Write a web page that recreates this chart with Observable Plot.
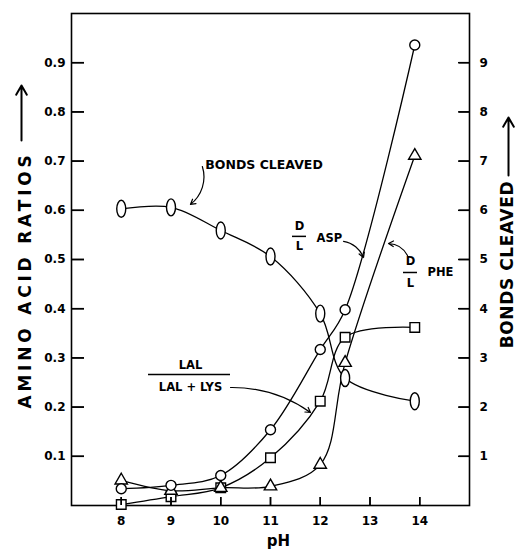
<!DOCTYPE html>
<html><head><meta charset="utf-8">
<script src="https://cdn.jsdelivr.net/npm/d3@7"></script>
<script src="https://cdn.jsdelivr.net/npm/@observablehq/plot@0.6"></script>
<style>body{margin:0;background:#fff}</style>
</head><body><div id="chart"></div>
<script>
// pH values of the measurements
const ph = [8, 9, 10, 11, 12, 12.5, 13.9];
// amino acid ratios (left axis)
const aspRatio = [0.034, 0.041, 0.061, 0.154, 0.317, 0.398, 0.936];   // D/L ASP (circles)
const pheRatio = [0.051, 0.030, 0.036, 0.039, 0.083, 0.290, 0.711];   // D/L PHE (triangles)
const lalRatio = [0.002, 0.018, 0.036, 0.097, 0.212, 0.342, 0.362];   // LAL/(LAL+LYS) (squares)
// bonds cleaved (right axis)
const bondsCleaved = [6.03, 6.06, 5.59, 5.06, 3.90, 2.59, 2.12];
// tick labels
const xTicks = [8, 9, 10, 11, 12, 13, 14];
const yTicks = [0.1, 0.2, 0.3, 0.4, 0.5, 0.6, 0.7, 0.8, 0.9];
const bondTickLabels = ["1","2","3","4","5","6","7","8","9"];

const rows = ph.map((p, i) => ({ph: p, asp: aspRatio[i], phe: pheRatio[i], lal: lalRatio[i], bonds: bondsCleaved[i] / 10}));

// annotations (data coordinates)
const notesStart = [
  {x: 9.69, y: 0.693, text: "BONDS CLEAVED", size: 12.5},
  {x: 11.925, y: 0.543, text: "ASP", size: 11.5},
  {x: 14.156, y: 0.4736, text: "PHE", size: 11.5}
];
const notesMiddle = [
  {x: 11.583, y: 0.567, text: "D", size: 11.5},
  {x: 11.583, y: 0.526, text: "L", size: 11.5},
  {x: 13.814, y: 0.496, text: "D", size: 11.5},
  {x: 13.814, y: 0.451, text: "L", size: 11.5},
  {x: 9.392, y: 0.2846, text: "LAL", size: 11.5},
  {x: 9.392, y: 0.2398, text: "LAL + LYS", size: 11.5}
];
const bars = [
  {x1: 11.442, x2: 11.724, y: 0.547},
  {x1: 13.673, x2: 13.955, y: 0.4736},
  {x1: 8.548, x2: 10.196, y: 0.2663}
];
const pointers = [
  {x1: 9.63, y1: 0.689, x2: 9.39, y2: 0.612, bend: 35},
  {x1: 12.467, y1: 0.537, x2: 12.869, y2: 0.504, bend: 30},
  {x1: 13.754, y1: 0.508, x2: 13.372, y2: 0.5325, bend: -30},
  {x1: 10.196, y1: 0.2398, x2: 11.804, y2: 0.189, bend: 18}
];
const axisTitles = [
  {x: 6.0754, y: 0.4583, text: "AMINO ACID RATIOS"},
  {x: 15.764, y: 0.4898, text: "BONDS CLEAVED"}
];
const axisArrows = [
  {x: 5.995, y1: 0.7419, y2: 0.8537},
  {x: 15.784, y1: 0.6707, y2: 0.7886}
];

const ellipse = {draw(ctx, size) {
  const r = Math.sqrt(size / Math.PI);
  const rx = r * 0.53, ry = r, k = 0.5523;
  ctx.moveTo(0, -ry);
  ctx.bezierCurveTo(k * rx, -ry, rx, -k * ry, rx, 0);
  ctx.bezierCurveTo(rx, k * ry, k * rx, ry, 0, ry);
  ctx.bezierCurveTo(-k * rx, ry, -rx, k * ry, -rx, 0);
  ctx.bezierCurveTo(-rx, -k * ry, -k * rx, -ry, 0, -ry);
  ctx.closePath();
}};

// inward tick lengths, converted from pixels to data units (frame 398 x 492 px over 8 x 1 units)
const xMin = 7, xMax = 15, tickLeft = 13 * 8 / 398, tickRight = 11 * 8 / 398, tickBottom = 8 / 492;

const lineOpts = {x: "ph", curve: "catmull-rom", stroke: "black", strokeWidth: 1.3};
const dotOpts = {x: "ph", fill: "white", stroke: "black", strokeWidth: 1.4};
const noText = () => "";
const chart = Plot.plot({
  width: 516, height: 555,
  marginLeft: 71, marginRight: 47, marginTop: 13, marginBottom: 50,
  style: {fontFamily: "'DejaVu Sans', sans-serif", fontWeight: "bold", fontSize: "12px", background: "white", color: "black"},
  x: {domain: [xMin, xMax]},
  y: {domain: [0, 1]},
  marks: [
    Plot.frame({stroke: "black", strokeWidth: 1.6}),
    Plot.axisX(xTicks, {tickSize: 0, tickPadding: 11, fontSize: 12}),
    Plot.axisY(yTicks, {anchor: "left", tickSize: 0, tickPadding: 6, tickFormat: d3.format(".1f"), fontSize: 12}),
    Plot.axisY(yTicks, {anchor: "right", tickSize: 0, tickPadding: 10, tickFormat: (d, i) => bondTickLabels[i], fontSize: 12}),
    Plot.line(rows, {...lineOpts, y: "asp"}),
    Plot.line(rows, {...lineOpts, y: "phe"}),
    Plot.line(rows, {...lineOpts, y: "lal"}),
    Plot.line(rows, {...lineOpts, y: "bonds"}),
    Plot.ruleY(bars, {y: "y", x1: "x1", x2: "x2", stroke: "black", strokeWidth: 1.5}),
    ...pointers.map(p => Plot.arrow([p], {x1: "x1", y1: "y1", x2: "x2", y2: "y2", bend: p.bend, headLength: 7, stroke: "black", strokeWidth: 1.2, insetStart: 0, insetEnd: 0})),
    Plot.dot(rows, {...dotOpts, y: "lal", symbol: "square", r: 5.4}),
    Plot.dot(rows, {...dotOpts, y: "phe", symbol: "triangle", r: 4.6}),
    Plot.dot(rows, {...dotOpts, y: "asp", symbol: "circle", r: 5}),
    Plot.dot(rows, {...dotOpts, y: "bonds", symbol: ellipse, r: 8.5}),
    // inward tick marks (drawn twice: rules and shifted axis ticks)
    Plot.ruleX(xTicks, {x: d => d, y1: 0, y2: tickBottom, stroke: "black", strokeWidth: 1.5}),
    Plot.ruleY(yTicks, {y: d => d, x1: xMin, x2: xMin + tickLeft, stroke: "black", strokeWidth: 1.5}),
    Plot.ruleY(yTicks, {y: d => d, x1: xMax - tickRight, x2: xMax, stroke: "black", strokeWidth: 1.5}),
    Plot.axisX(xTicks, {anchor: "bottom", tickSize: 8, dy: -8, tickFormat: noText, strokeWidth: 1.5}),
    Plot.axisY(yTicks, {anchor: "left", tickSize: 13, dx: 13, tickFormat: noText, strokeWidth: 1.5}),
    Plot.axisY(yTicks, {anchor: "right", tickSize: 11, dx: -11, tickFormat: noText, strokeWidth: 1.5}),
    Plot.text(notesStart, {x: "x", y: "y", text: "text", textAnchor: "start", fontSize: "size", fill: "black"}),
    Plot.text(notesMiddle, {x: "x", y: "y", text: "text", textAnchor: "middle", fontSize: "size", fill: "black"}),
    Plot.text(axisTitles, {x: "x", y: "y", text: "text", rotate: -90, fontSize: 17, fill: "black"}),
    Plot.arrow(axisArrows, {x: "x", y1: "y1", y2: "y2", headLength: 8, stroke: "black", strokeWidth: 2, insetStart: 0, insetEnd: 0}),
    Plot.text(["pH"], {frameAnchor: "bottom", dx: 8, dy: 40, fontSize: 15, fill: "black"})
  ]
});
d3.select(chart).selectAll("text").each(function() {
  const t = this.textContent;
  const tr = this.getAttribute("transform") || "";
  if (t === "AMINO ACID RATIOS") this.setAttribute("letter-spacing", "3.8");
  else if (t === "BONDS CLEAVED" && tr.includes("rotate")) this.setAttribute("letter-spacing", "0.6");
});
document.getElementById("chart").appendChild(chart);
</script>
</body></html>
